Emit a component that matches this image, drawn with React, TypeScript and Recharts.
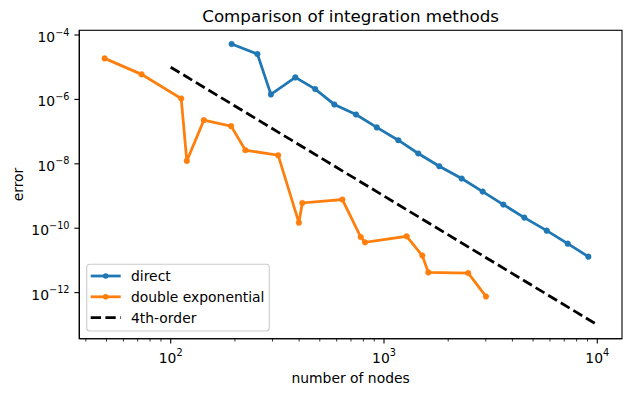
import { LineChart, Line, XAxis, YAxis } from "recharts";

// number of nodes / error
const directNodes = [193, 255, 295, 384, 476, 585, 739, 925, 1167, 1448, 1817, 2313, 2901, 3625, 4548, 5794, 7267, 9080];
const directError = [5.25e-5, 2.57e-5, 1.43e-6, 4.83e-6, 2.09e-6, 6.98e-7, 3.41e-7, 1.35e-7, 5.42e-8, 2.09e-8, 8.41e-9, 3.49e-9, 1.37e-9, 5.42e-10, 2.14e-10, 8.41e-11, 3.32e-11, 1.31e-11];

const deNodes = [49, 73, 112, 119, 143, 192, 224, 319, 399, 414, 638, 778, 815, 1277, 1512, 1614, 2483, 3006];
const deError = [1.88e-5, 6.0e-6, 1.07e-6, 1.23e-8, 2.27e-7, 1.48e-7, 2.65e-8, 1.85e-8, 1.49e-10, 6.08e-10, 7.76e-10, 5.32e-11, 3.64e-11, 5.6e-11, 1.41e-11, 4.25e-12, 4.04e-12, 7.62e-13];

const refNodes = [100, 10000];
const refError = [1e-5, 1e-13];

const xTicks = [
  40, 50, 60, 70, 80, 90, 100,
  200, 300, 400, 500, 600, 700, 800, 900, 1000,
  2000, 3000, 4000, 5000, 6000, 7000, 8000, 9000, 10000,
];
const yTicks = [1e-4, 1e-6, 1e-8, 1e-10, 1e-12];

const xDomain = [37.28, 13057];
const yDomain = [3.71e-14, 1.4e-4];

const BLUE = "#1f77b4";
const ORANGE = "#ff7f0e";
const FONT = "DejaVu Sans";

// plot box (matches the chart margins below)
const PLOT = { left: 79.3, top: 30.3, right: 622, bottom: 338.7 };

const toRows = (xs: number[], ys: number[]) => xs.map((n, i) => ({ n, e: ys[i] }));
const direct = toRows(directNodes, directError);
const doubleExp = toRows(deNodes, deError);
const fourth = toRows(refNodes, refError);

const sup = (v: number) => {
  const p = Math.round(Math.log10(v));
  return p < 0 ? "\u2212" + Math.abs(p) : String(p);
};

const XTick = (props: any) => {
  const { x, y, payload } = props;
  const lg = Math.log10(payload.value);
  const major = Math.abs(lg - Math.round(lg)) < 1e-6;
  return (
    <g>
      <line x1={x} x2={x} y1={y} y2={y + (major ? 4.9 : 2.8)} stroke="#000" strokeWidth={major ? 1.1 : 0.8} />
      {major && (
        <text x={x} y={y + 24} textAnchor="middle" fontSize={13.9} fontFamily={FONT} fill="#000">
          10<tspan dy={-6.5} fontSize={9.7}>{sup(payload.value)}</tspan>
        </text>
      )}
    </g>
  );
};

const YTick = (props: any) => {
  const { x, y, payload } = props;
  return (
    <g>
      <line x1={x} x2={x - 4.9} y1={y} y2={y} stroke="#000" strokeWidth={1.1} />
      <text x={x - 9.8} y={y + 7} textAnchor="end" fontSize={13.9} fontFamily={FONT} fill="#000">
        10<tspan dy={-6.5} fontSize={9.7}>{sup(payload.value)}</tspan>
      </text>
    </g>
  );
};

const legendItems = [
  { label: "direct", color: BLUE, dashed: false },
  { label: "double exponential", color: ORANGE, dashed: false },
  { label: "4th-order", color: "#000", dashed: true },
];

export default function App() {
  return (
    <div style={{ position: "fixed", left: 0, top: 0, width: 631, height: 396, background: "#fff" }}>
      <LineChart width={631} height={396} margin={{ top: PLOT.top, right: 631 - PLOT.right, bottom: 0, left: 0 }}>
        <XAxis
          dataKey="n"
          type="number"
          scale="log"
          domain={xDomain}
          allowDataOverflow
          ticks={xTicks}
          interval={0}
          height={396 - PLOT.bottom}
          tickSize={0}
          tickMargin={0}
          tickLine={false}
          tick={<XTick />}
          axisLine={{ stroke: "#000", strokeWidth: 1.1 }}
        />
        <YAxis
          type="number"
          scale="log"
          domain={yDomain}
          allowDataOverflow
          ticks={yTicks}
          interval={0}
          width={PLOT.left}
          tickSize={0}
          tickMargin={0}
          tickLine={false}
          tick={<YTick />}
          axisLine={{ stroke: "#000", strokeWidth: 1.1 }}
        />
        <Line
          data={direct}
          dataKey="e"
          type="linear"
          stroke={BLUE}
          strokeWidth={2.78}
          dot={{ r: 2.8, fill: BLUE, stroke: BLUE, strokeWidth: 0.5 }}
          isAnimationActive={false}
        />
        <Line
          data={doubleExp}
          dataKey="e"
          type="linear"
          stroke={ORANGE}
          strokeWidth={2.78}
          dot={{ r: 2.8, fill: ORANGE, stroke: ORANGE, strokeWidth: 0.5 }}
          isAnimationActive={false}
        />
        <Line
          data={fourth}
          dataKey="e"
          type="linear"
          stroke="#000"
          strokeWidth={2.78}
          strokeDasharray="10.3 4.4"
          dot={false}
          isAnimationActive={false}
        />
      </LineChart>
      <svg
        width={631}
        height={396}
        style={{ position: "absolute", left: 0, top: 0, pointerEvents: "none" }}
      >
        <rect
          x={PLOT.left}
          y={PLOT.top}
          width={PLOT.right - PLOT.left}
          height={PLOT.bottom - PLOT.top}
          fill="none"
          stroke="#000"
          strokeWidth={1.1}
        />
        <text x={350.6} y={22} textAnchor="middle" fontSize={16.7} fontFamily={FONT} fill="#000">
          Comparison of integration methods
        </text>
        <text x={350.6} y={383} textAnchor="middle" fontSize={13.9} fontFamily={FONT} fill="#000">
          number of nodes
        </text>
        <text
          transform="translate(22.5,184.5) rotate(-90)"
          textAnchor="middle"
          fontSize={13.9}
          fontFamily={FONT}
          fill="#000"
        >
          error
        </text>
        <rect x={86.7} y={264.3} width={182.6} height={66.7} rx={3} fill="#fff" fillOpacity={0.8} stroke="#cccccc" strokeWidth={1.1} />
        {legendItems.map((it, i) => {
          const cy = 276 + i * 20.8;
          return (
            <g key={it.label}>
              <line
                x1={90.7}
                x2={120.7}
                y1={cy}
                y2={cy}
                stroke={it.color}
                strokeWidth={2.78}
                strokeDasharray={it.dashed ? "10.3 4.4" : undefined}
              />
              {!it.dashed && <circle cx={105.7} cy={cy} r={2.8} fill={it.color} />}
              <text x={131} y={cy + 5} fontSize={13.9} fontFamily={FONT} fill="#000">
                {it.label}
              </text>
            </g>
          );
        })}
      </svg>
    </div>
  );
}
